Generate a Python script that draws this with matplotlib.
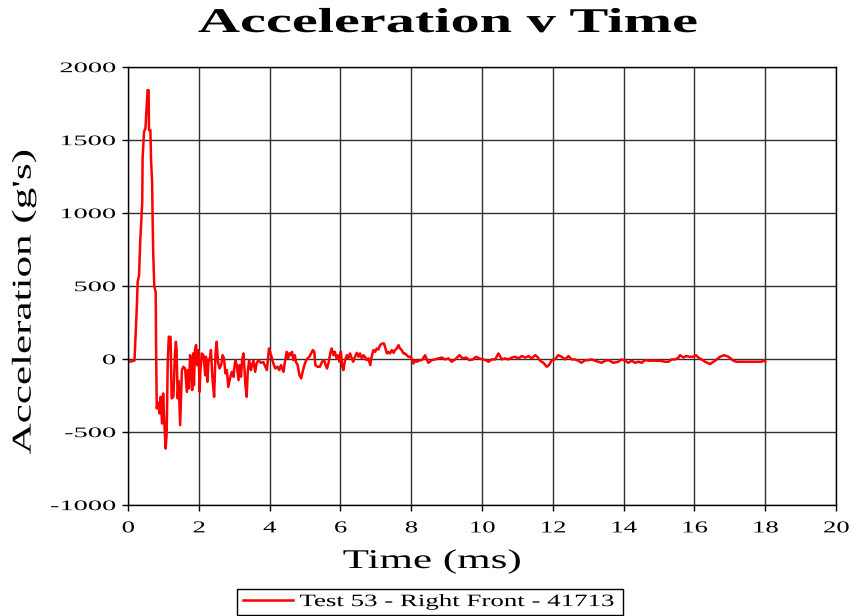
import matplotlib
matplotlib.use("Agg")
import matplotlib.pyplot as plt
from matplotlib.patches import Rectangle
from matplotlib.patheffects import AbstractPathEffect
from matplotlib.transforms import Affine2D

# time (ms) and acceleration (g's)
time_ms = [
    0.0, 0.04, 0.18, 0.2, 0.245, 0.27, 0.31, 0.34, 0.37, 0.40, 0.41, 0.45, 0.49, 0.52, 0.55, 0.58,
    0.59, 0.63, 0.65, 0.68, 0.69, 0.71, 0.74, 0.78, 0.79, 0.81, 0.85, 0.89, 0.92, 0.96, 0.99, 1.02,
    1.06, 1.09, 1.12, 1.15, 1.20, 1.22, 1.23, 1.28, 1.32, 1.35, 1.37, 1.40, 1.43, 1.47, 1.50, 1.52,
    1.56, 1.61, 1.66, 1.69, 1.72, 1.75, 1.78, 1.81, 1.84, 1.86, 1.89, 1.92, 1.95, 1.99, 2.02, 2.04,
    2.08, 2.13, 2.18, 2.20, 2.24, 2.27, 2.32, 2.34, 2.38, 2.43, 2.47, 2.50, 2.54, 2.58, 2.63, 2.67,
    2.71, 2.75, 2.79, 2.83, 2.88, 2.93, 2.98, 3.00, 3.03, 3.07, 3.12, 3.15, 3.19, 3.22, 3.26, 3.29,
    3.31, 3.35, 3.38, 3.42, 3.47, 3.50, 3.54, 3.59, 3.63, 3.68, 3.75, 3.82, 3.92, 3.98, 4.04, 4.09,
    4.12, 4.16, 4.22, 4.27, 4.32, 4.39, 4.43, 4.48, 4.52, 4.55, 4.59, 4.63, 4.67, 4.71, 4.74, 4.79,
    4.84, 4.89, 4.93, 4.98, 5.03, 5.07, 5.12, 5.17, 5.22, 5.26, 5.29, 5.35, 5.42, 5.48, 5.54, 5.58,
    5.62, 5.67, 5.71, 5.75, 5.80, 5.84, 5.89, 5.93, 5.97, 6.01, 6.05, 6.08, 6.13, 6.18, 6.22, 6.27,
    6.32, 6.36, 6.41, 6.46, 6.51, 6.55, 6.60, 6.65, 6.69, 6.74, 6.79, 6.84, 6.88, 6.93, 6.98, 7.02,
    7.07, 7.12, 7.17, 7.23, 7.27, 7.31, 7.35, 7.40, 7.45, 7.50, 7.54, 7.59, 7.64, 7.68, 7.73, 7.78,
    7.82, 7.87, 7.92, 7.97, 8.01, 8.06, 8.11, 8.15, 8.25, 8.30, 8.39, 8.48, 8.58, 8.67, 8.77, 8.86,
    8.96, 9.05, 9.14, 9.24, 9.36, 9.45, 9.55, 9.64, 9.74, 9.83, 9.92, 10.02, 10.11, 10.18, 10.27, 10.37,
    10.46, 10.56, 10.65, 10.74, 10.84, 10.93, 11.03, 11.12, 11.22, 11.31, 11.40, 11.50, 11.56, 11.64, 11.73, 11.83,
    11.89, 11.97, 12.06, 12.15, 12.25, 12.34, 12.44, 12.53, 12.62, 12.72, 12.81, 12.91, 13.00, 13.10, 13.19, 13.29,
    13.38, 13.48, 13.57, 13.71, 13.85, 13.94, 14.04, 14.13, 14.23, 14.32, 14.42, 14.51, 14.60, 14.75, 14.89, 15.03,
    15.17, 15.26, 15.36, 15.45, 15.55, 15.59, 15.69, 15.76, 15.86, 15.95, 16.04, 16.11, 16.20, 16.30, 16.44, 16.58,
    16.72, 16.84, 16.96, 17.10, 17.19, 17.38, 17.57, 17.76, 17.90, 17.95, 18.0,
]
accel_g = [
    -15, -18, -10, 96, 347, 530, 575, 792, 941, 1078, 1374, 1557, 1580, 1705, 1842, 1842,
    1568, 1568, 1352, 1203, 998, 724, 495, 461, 84, -338, -297, -372, -258, -441, -235, -418,
    -612, -509, -18, 153, 153, -121, -269, -258, 16, 119, 62, -269, -150, -452, -212, -75,
    -53, -64, -224, -75, -201, 27, 5, -212, 39, -178, 62, 96, -41, 62, -224, -87,
    39, 27, -110, 16, -155, -18, 16, 62, -121, -258, 39, 119, -18, -64, -41, 27,
    5, -98, -75, -190, -132, -87, -121, -64, -7, -41, -144, -41, -121, -7, 39, -75,
    -167, -258, -87, -7, -75, -41, -11, -87, -30, -7, -25, -20, -75, 73, 27, -18,
    -41, -64, -52, -75, -41, -87, -18, 50, 5, 39, 27, 50, -7, 27, -18, -41,
    -109, -132, -87, -41, -7, 5, 16, 39, 62, 50, -41, -52, -52, -18, -7, -41,
    -64, -18, 39, 73, 27, 50, 5, 27, -18, 50, -52, -75, -7, 27, 5, 39,
    5, -18, 16, 43, 16, 39, 5, 27, 16, -7, 5, -41, 16, 62, 50, 73,
    66, 96, 107, 107, 73, 39, 50, 39, 62, 43, 62, 73, 96, 73, 62, 39,
    39, 27, 16, 16, 5, -30, -7, -18, -7, -7, 27, -25, -7, -2, 5, 11,
    -2, 5, -18, -2, 27, 5, 11, -7, -2, 16, 5, -2, -7, -18, -2, -2,
    39, -2, 5, -2, 11, 16, 5, 21, 11, 21, 5, 27, 16, -11, -25, -52,
    -41, -7, -2, 27, 16, -2, 21, -2, -2, -11, -25, -7, -7, -2, -11, -18,
    -25, -11, -7, -25, -18, -2, -11, -25, -11, -25, -18, -25, -7, -11, -11, -11,
    -18, -18, -2, -2, 11, 27, 11, 21, 16, 16, 27, 11, -2, -18, -34, -11,
    16, 27, 16, -11, -18, -18, -18, -18, -18, -7, -18,
]
series_label = "Test 53 - Right Front - 41713"
x_ticks = [0, 2, 4, 6, 8, 10, 12, 14, 16, 18, 20]
y_ticks = [-1000, -500, 0, 500, 1000, 1500, 2000]

serif = "Liberation Serif"


class Widen(AbstractPathEffect):
    """Stretch text horizontally (along its baseline), the reference fonts are wide."""

    def __init__(self, sx, anchor="center"):
        super().__init__()
        self.sx = sx
        self.anchor = anchor

    def draw_path(self, renderer, gc, tpath, affine, rgbFace=None):
        xs = tpath.vertices[:, 0]
        if len(xs) == 0:
            return
        if self.anchor == "left":
            c = xs.min()
        elif self.anchor == "right":
            c = xs.max()
        else:
            c = (xs.min() + xs.max()) / 2
        t = Affine2D().translate(-c, 0).scale(self.sx, 1).translate(c, 0) + affine
        renderer.draw_path(gc, tpath, t, rgbFace)


fig = plt.figure(figsize=(8.54, 6.16), dpi=100)
ax = fig.add_axes([0.150, 0.180, 0.829, 0.711])

ax.plot(time_ms, accel_g, color="#ff0000", lw=1.8, label=series_label)

ax.set_xlim(0, 20)
ax.set_ylim(-1000, 2000)
ax.set_xticks(x_ticks)
ax.set_yticks(y_ticks)
ax.set_xticklabels([str(v) for v in x_ticks], fontfamily=serif, fontsize=12)
ax.set_yticklabels([str(v) for v in y_ticks], fontfamily=serif, fontsize=10.5)
for lab in ax.get_xticklabels():
    lab.set_path_effects([Widen(1.6)])
for lab in ax.get_yticklabels():
    lab.set_path_effects([Widen(1.95, "right")])
ax.tick_params(axis="x", direction="out", length=4, width=1, color="black", pad=7)
ax.tick_params(axis="y", direction="out", length=4, width=1, color="black", pad=5)
ax.grid(True, color="#303030", lw=1)
ax.set_axisbelow(True)
for s in ax.spines.values():
    s.set_color("black")
    s.set_linewidth(1)

fig.text(447.5 / 854, 1 - 23.5 / 616, "Acceleration v Time", ha="center", va="center",
         fontfamily=serif, fontweight="bold", fontsize=25,
         path_effects=[Widen(1.68)])
fig.text(432 / 854, 1 - 561.5 / 616, "Time (ms)", ha="center", va="center",
         fontfamily=serif, fontsize=19.5, path_effects=[Widen(1.59)])
fig.text(24 / 854, 1 - 302 / 616, "Acceleration (g's)", ha="center", va="center",
         rotation=90, fontfamily=serif, fontsize=19.5, path_effects=[Widen(1.59)])

leg = fig.legend(loc="center left", bbox_to_anchor=(243 / 854, 1 - 602 / 616), frameon=False,
                 handlelength=2.9, handletextpad=0.35, borderpad=0, borderaxespad=0,
                 prop={"family": serif, "size": 12.5})
for txt in leg.get_texts():
    txt.set_path_effects([Widen(1.55, "left")])
fig.add_artist(Rectangle((237 / 854, 1 - 615 / 616), (623 - 237) / 854, 26 / 616,
                         transform=fig.transFigure, fill=False, ec="black", lw=1))

fig.savefig("out.png", dpi=100)
